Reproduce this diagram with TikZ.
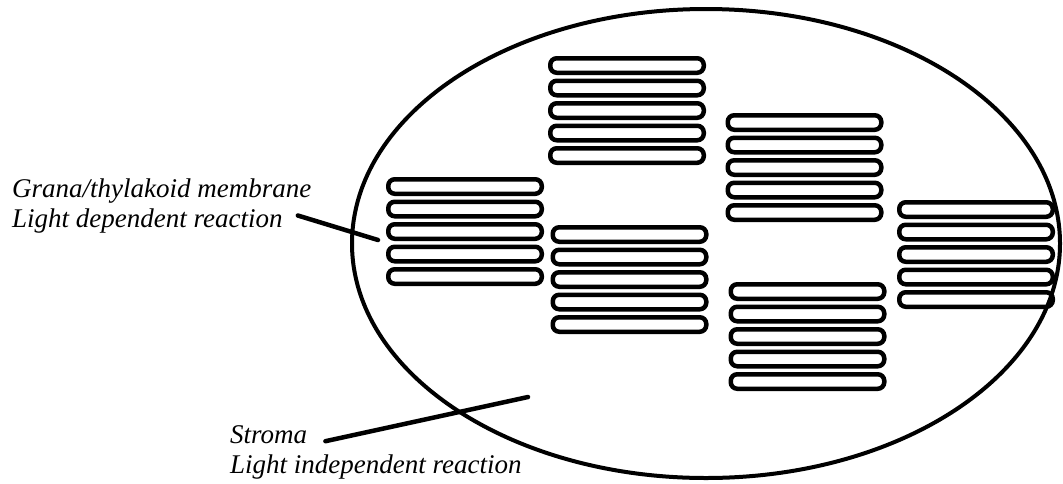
\documentclass[tikz,border=0pt]{standalone}
\usepackage{fontspec}
\setmainfont{Liberation Serif}
\usetikzlibrary{positioning}

\tikzset{
  disc/.style={draw, line width=4.5pt, rounded corners=6.5pt, minimum width=153.5pt, minimum height=14.5pt, inner sep=0pt},
  caption/.style={font=\fontsize{27}{30}\selectfont\itshape, inner sep=0pt, anchor=base west},
  pointer/.style={line width=4.5pt, line cap=round}
}

\begin{document}
\begin{tikzpicture}[x=1pt,y=-1pt]
\useasboundingbox (0,0) rectangle (1063,483);

% chloroplast outline
\draw[line width=4pt] (706,243.5) ellipse [x radius=354, y radius=234.5];

% grana: six stacks of five thylakoids
\foreach \s/\x/\y in {A/465/186.5, B/627/65.5, C/629.5/234.5, D/804.5/122.5, E/807.5/291.5, F/976/209.5} {
  \foreach \i in {1,...,5} {
    \node[disc] (\s\i) at (\x, \y+22.5*\i-22.5) {};
  }
}

% labels
\node[caption] (grana) at (12,197) {Grana/thylakoid membrane};
\node[caption] (ldr) at ([yshift=-30pt]grana.base west) {Light dependent reaction};
\node[caption] (stroma) at (230,443) {Stroma};
\node[caption] (lir) at ([yshift=-30pt]stroma.base west) {Light independent reaction};

\coordinate (inside) at (528,397);

% pointer lines
\draw[pointer] ([xshift=15pt,yshift=5pt]ldr.east) -- ([xshift=-8pt,yshift=-8.5pt]A3.west);
\draw[pointer] ([xshift=18pt,yshift=-7pt]stroma.east) -- (inside);
\end{tikzpicture}
\end{document}
